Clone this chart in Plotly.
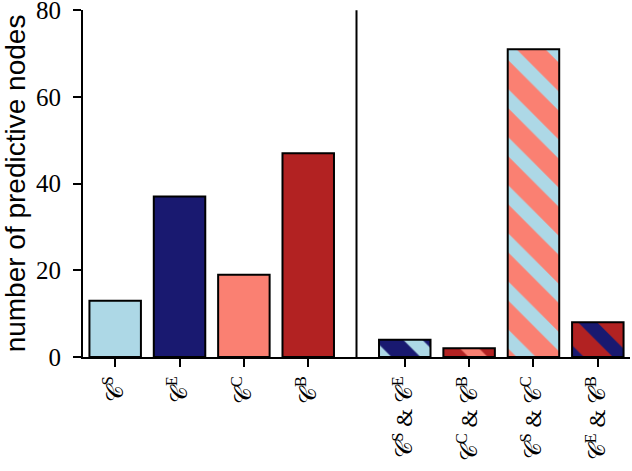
import plotly.graph_objects as go

single_labels = ["𝒞<sup>S</sup>", "𝒞<sup>E</sup>", "𝒞<sup>C</sup>", "𝒞<sup>B</sup>"]
single_values = [13, 37, 19, 47]
single_colors = ["#ADD8E6", "#191970", "#FA8072", "#B22222"]
single_pos = [0, 1, 2, 3]

pair_labels = ["𝒞<sup>S</sup> & 𝒞<sup>E</sup>", "𝒞<sup>C</sup> & 𝒞<sup>B</sup>",
               "𝒞<sup>S</sup> & 𝒞<sup>C</sup>", "𝒞<sup>E</sup> & 𝒞<sup>B</sup>"]
pair_values = [4, 2, 71, 8]
pair_bg = ["#191970", "#B22222", "#FA8072", "#B22222"]
pair_fg = ["#ADD8E6", "#FA8072", "#ADD8E6", "#191970"]
pair_pos = [4.5, 5.5, 6.5, 7.5]
separator_x = 3.75
y_ticks = [0, 20, 40, 60, 80]

fig = go.Figure()
fig.add_trace(go.Bar(
    x=single_pos, y=single_values, width=0.8,
    marker=dict(color=single_colors, line=dict(color="black", width=2)),
    showlegend=False, hoverinfo="skip"))
for p, v, bg, fg in zip(pair_pos, pair_values, pair_bg, pair_fg):
    fig.add_trace(go.Bar(
        x=[p], y=[v], width=0.8,
        marker=dict(color=bg, line=dict(color="black", width=2),
                    pattern=dict(shape="\\", fgcolor=fg, fgopacity=1,
                                 size=34, solidity=0.4, fillmode="overlay")),
        showlegend=False, hoverinfo="skip"))

fig.add_shape(type="line", x0=separator_x, x1=separator_x, y0=0, y1=80,
              xref="x", yref="y", line=dict(color="black", width=2))

fig.update_layout(
    width=632, height=471,
    margin=dict(l=83, r=2, t=10, b=114),
    plot_bgcolor="white", paper_bgcolor="white",
    barmode="overlay",
    xaxis=dict(range=[-0.5, 8.0], tickvals=single_pos + pair_pos,
               ticktext=single_labels + pair_labels, tickangle=-90,
               showline=True, linecolor="black", linewidth=2,
               ticks="outside", ticklen=8, tickwidth=2, tickcolor="black",
               showgrid=False, zeroline=False, automargin=False,
               ticklabeloverflow="allow",
               tickfont=dict(family="Liberation Serif, DejaVu Serif, serif", size=23, color="black")),
    yaxis=dict(range=[0, 80.05], tickvals=y_ticks,
               showline=True, linecolor="black", linewidth=2,
               ticks="outside", ticklen=8, tickwidth=2, tickcolor="black",
               showgrid=False, zeroline=False, automargin=False,
               ticklabeloverflow="allow", ticklabelstandoff=7,
               tickfont=dict(family="Liberation Serif, serif", size=25, color="black"),
               title=dict(text="number of predictive nodes", standoff=12,
                          font=dict(family="Liberation Sans, Arial, sans-serif", size=28, color="black"))),
)

fig.write_html("out.html", config={"displayModeBar": False},
               post_script="document.body.style.margin='0';")
